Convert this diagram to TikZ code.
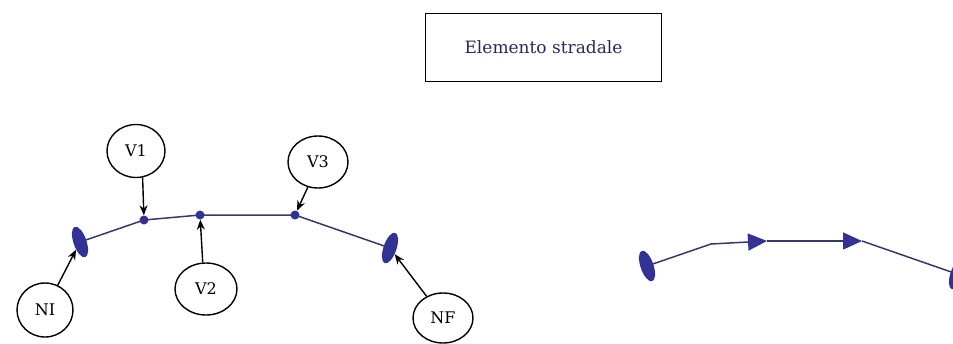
\documentclass[tikz,border=0pt]{standalone}
\usepackage{fontspec}
\setmainfont{DejaVu Serif}
\usetikzlibrary{shapes.geometric,arrows.meta}
\definecolor{mblue}{RGB}{50,50,150}
\definecolor{lineblue}{RGB}{55,55,105}
\definecolor{titleblue}{RGB}{40,40,95}
\begin{document}
\begin{tikzpicture}[x=1pt,y=-1pt,
  lab/.style={ellipse,draw,line width=1.4pt,inner sep=0pt,minimum width=58pt,minimum height=52pt,font=\fontsize{16}{18}\selectfont},
  endmark/.style={ellipse,fill=mblue,inner sep=0pt,minimum width=13pt,minimum height=32pt},
  vdot/.style={circle,fill=mblue,inner sep=0pt,minimum size=9pt},
  road/.style={lineblue,line width=1.5pt},
  arr/.style={-{Stealth[length=10pt,width=8pt]},line width=1.4pt},
  dirarr/.style={road,-{Triangle[length=19pt,width=17pt,color=mblue]}}
]
\useasboundingbox (0,0) rectangle (953,343);
% title
\node[draw,line width=1.6pt,minimum width=236pt,minimum height=68pt,inner sep=0pt,
      text=titleblue,font=\fontsize{17}{19}\selectfont] (title) at (543.5,47.5) {Elemento stradale};
% left road element
\coordinate (pni) at (80,242);
\coordinate (pv1) at (144,220);
\coordinate (pv2) at (200,215);
\coordinate (pv3) at (295,215);
\coordinate (pnf) at (390,248);
\draw[road] (pni) -- (pv1) -- (pv2) -- (pv3) -- (pnf);
\node[endmark,rotate=19] (ni) at (pni) {};
\node[endmark,rotate=-19] (nf) at (pnf) {};
\node[vdot] (v1) at (pv1) {};
\node[vdot] (v2) at (pv2) {};
\node[vdot] (v3) at (pv3) {};
\node[lab,minimum width=56pt,minimum height=54pt] (NIlab) at (45,310) {NI};
\node[lab,minimum height=53pt] (V1lab) at (136,151) {V1};
\node[lab,minimum width=62pt] (V2lab) at (206,289) {V2};
\node[lab,minimum width=60pt] (V3lab) at (318,162) {V3};
\node[lab,minimum width=60pt,minimum height=50pt] (NFlab) at (443,318) {NF};
\draw[arr] (NIlab) -- (ni);
\draw[arr] (V1lab.-76) -- (v1);
\draw[arr] (V2lab.97) -- (v2);
\draw[arr] (V3lab.-112) -- (v3);
\draw[arr] (NFlab) -- (nf);
% right oriented element
\coordinate (qni) at (647,266);
\coordinate (qv1) at (711,244);
\coordinate (qv2) at (767,241);
\coordinate (qv3) at (862,241);
\coordinate (qnf) at (957,274);
\draw[road] (qni) -- (qv1);
\draw[dirarr] (qv1) -- (qv2);
\draw[dirarr] (qv2) -- (qv3);
\draw[road] (qv3) -- (qnf);
\node[endmark,rotate=19] (rni) at (qni) {};
\node[endmark,rotate=-19] (rnf) at (qnf) {};
\end{tikzpicture}
\end{document}
